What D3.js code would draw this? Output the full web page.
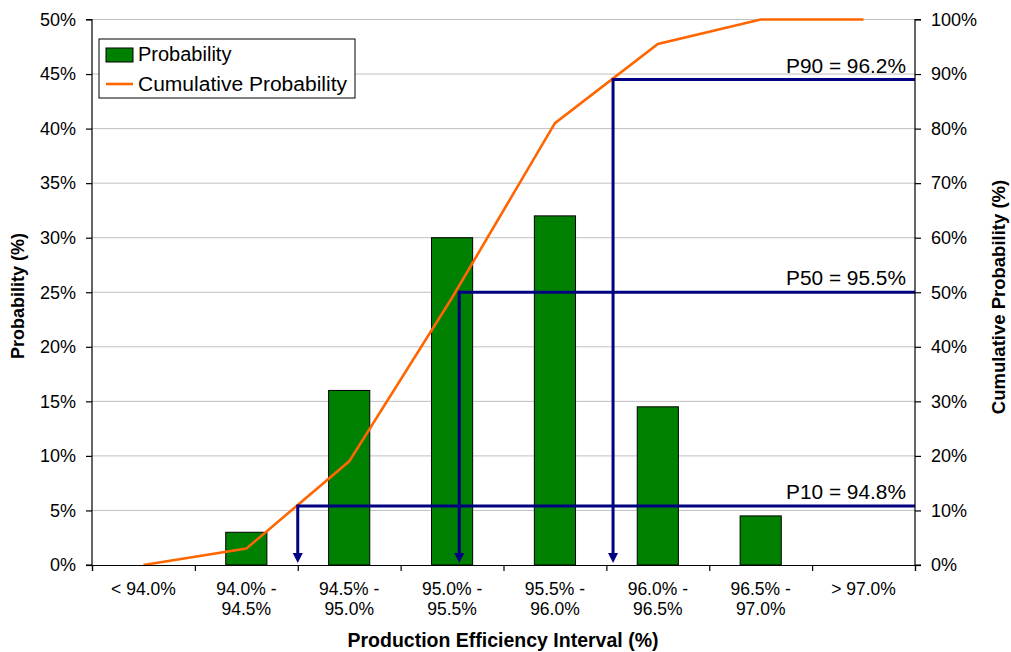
<!DOCTYPE html>
<html>
<head>
<meta charset="utf-8">
<script src="https://cdn.jsdelivr.net/npm/d3@7/dist/d3.min.js"></script>
<style>
  html, body { margin: 0; padding: 0; background: #fff; }
  svg { display: block; font-family: "Liberation Sans", Arial, sans-serif; }
</style>
</head>
<body>
<svg id="chart" width="1011" height="652"></svg>
<script>
// Production efficiency intervals (two-line labels)
const categories = [
  ["< 94.0%"],
  ["94.0% -", "94.5%"],
  ["94.5% -", "95.0%"],
  ["95.0% -", "95.5%"],
  ["95.5% -", "96.0%"],
  ["96.0% -", "96.5%"],
  ["96.5% -", "97.0%"],
  ["> 97.0%"]
];
// Probability per interval (%)
const probability = [0, 3, 16, 30, 32, 14.5, 4.5, 0];
// Cumulative probability per interval (%)
const cumulative = [0, 3, 19, 49, 81, 95.5, 100, 100];
// Percentile markers: position along the interval axis (in interval units) and cumulative level (%)
const percentiles = [
  { label: "P10 = 94.8%", pos: 2.0, level: 10.8 },
  { label: "P50 = 95.5%", pos: 3.57, level: 50 },
  { label: "P90 = 96.2%", pos: 5.065, level: 89 }
];
const leftTicks = [0, 5, 10, 15, 20, 25, 30, 35, 40, 45, 50];
const rightTicks = [0, 10, 20, 30, 40, 50, 60, 70, 80, 90, 100];

const svg = d3.select("#chart");
const m = { left: 92, right: 915, top: 19.5, bottom: 565 };

const x = d3.scaleLinear().domain([0, categories.length]).range([m.left, m.right]);
const band = d3.scaleBand().domain(d3.range(categories.length)).range([m.left, m.right]);
const yL = d3.scaleLinear().domain([0, 50]).range([m.bottom, m.top]);
const yR = d3.scaleLinear().domain([0, 100]).range([m.bottom, m.top]);

// Horizontal gridlines
svg.append("g").selectAll("line").data(leftTicks.filter(d => d > 0)).join("line")
  .attr("x1", m.left).attr("x2", m.right)
  .attr("y1", d => yL(d)).attr("y2", d => yL(d))
  .attr("stroke", "#c0c0c0").attr("stroke-width", 1);

// Probability bars
const barW = band.bandwidth() * 0.4;
svg.append("g").selectAll("rect").data(probability.map((v, i) => ({ v, i })).filter(d => d.v > 0)).join("rect")
  .attr("x", d => band(d.i) + (band.bandwidth() - barW) / 2)
  .attr("y", d => yL(d.v))
  .attr("width", barW)
  .attr("height", d => yL(0) - yL(d.v))
  .attr("fill", "#008000").attr("stroke", "#000").attr("stroke-width", 1);

// Cumulative probability line
const line = d3.line().x((d, i) => band(i) + band.bandwidth() / 2).y(d => yR(d));
svg.append("path").datum(cumulative)
  .attr("d", line).attr("fill", "none")
  .attr("stroke", "#ff6600").attr("stroke-width", 2.6).attr("stroke-linejoin", "miter");

// Percentile markers: horizontal level to the right axis, arrow down to the interval axis
const navy = "#000080";
const pg = svg.append("g");
percentiles.forEach(p => {
  const px = x(p.pos), py = yR(p.level);
  pg.append("line").attr("x1", px).attr("x2", m.right).attr("y1", py).attr("y2", py)
    .attr("stroke", navy).attr("stroke-width", 3);
  pg.append("line").attr("x1", px).attr("x2", px).attr("y1", py - 1.5).attr("y2", m.bottom - 8)
    .attr("stroke", navy).attr("stroke-width", 3);
  pg.append("path")
    .attr("d", `M${px - 5},${m.bottom - 12} L${px + 5},${m.bottom - 12} L${px},${m.bottom - 2} Z`)
    .attr("fill", navy);
  pg.append("text").attr("x", 906).attr("y", py - 7)
    .attr("text-anchor", "end").attr("font-size", 19.5).attr("fill", "#000")
    .attr("textLength", 120).attr("lengthAdjust", "spacingAndGlyphs")
    .text(p.label);
});

// Left axis
const axL = svg.append("g").attr("transform", `translate(${m.left},0)`)
  .call(d3.axisLeft(yL).tickValues(leftTicks).tickFormat(d => d + "%").tickSize(6).tickPadding(10));
// Right axis
const axR = svg.append("g").attr("transform", `translate(${m.right},0)`)
  .call(d3.axisRight(yR).tickValues(rightTicks).tickFormat(d => d + "%").tickSize(6).tickPadding(10));
// Bottom axis: tick marks at interval boundaries
const axB = svg.append("g").attr("transform", `translate(0,${m.bottom})`)
  .call(d3.axisBottom(x).tickValues(d3.range(categories.length + 1)).tickFormat("").tickSize(6));

[axL, axR, axB].forEach(a => {
  a.select(".domain").attr("stroke", "#000").attr("stroke-width", 1.2);
  a.selectAll(".tick line").attr("stroke", "#000").attr("stroke-width", 1.2);
  a.selectAll(".tick text").attr("font-size", 18).attr("fill", "#000")
    .attr("font-family", "'Liberation Sans', Arial, sans-serif");
});
axL.select(".domain").attr("d", `M-6,${m.top}H0V${m.bottom}H-6`);
axR.select(".domain").attr("d", `M6,${m.top}H0V${m.bottom}H6`);

// Category labels
const catG = svg.append("g");
categories.forEach((lines, i) => {
  const cx = band(i) + band.bandwidth() / 2;
  const t = catG.append("text")
    .attr("x", cx).attr("y", 595)
    .attr("text-anchor", "middle").attr("font-size", 17.5).attr("fill", "#000");
  lines.forEach((s, j) => {
    t.append("tspan").attr("x", cx).attr("dy", j === 0 ? 0 : 20).text(s);
  });
});

// Axis titles
svg.append("text").attr("x", 503).attr("y", 647).attr("text-anchor", "middle")
  .attr("font-size", 19.5).attr("font-weight", "bold").text("Production Efficiency Interval (%)");
svg.append("text").attr("transform", "translate(24,296) rotate(-90)").attr("text-anchor", "middle")
  .attr("font-size", 18).attr("font-weight", "bold").text("Probability (%)");
svg.append("text").attr("transform", "translate(1005,297) rotate(-90)").attr("text-anchor", "middle")
  .attr("font-size", 18.5).attr("font-weight", "bold").text("Cumulative Probability (%)");

// Legend
const lg = svg.append("g");
lg.append("rect").attr("x", 99).attr("y", 39).attr("width", 256).attr("height", 59)
  .attr("fill", "#fff").attr("stroke", "#000").attr("stroke-width", 1);
lg.append("rect").attr("x", 106).attr("y", 48).attr("width", 27).attr("height", 14)
  .attr("fill", "#008000").attr("stroke", "#000").attr("stroke-width", 1);
lg.append("line").attr("x1", 106).attr("x2", 133).attr("y1", 84).attr("y2", 84)
  .attr("stroke", "#ff6600").attr("stroke-width", 2.6);
lg.append("text").attr("x", 138).attr("y", 61).attr("font-size", 20).text("Probability");
lg.append("text").attr("x", 138).attr("y", 91).attr("font-size", 20)
  .attr("textLength", 209).attr("lengthAdjust", "spacingAndGlyphs").text("Cumulative Probability");
</script>
</body>
</html>
